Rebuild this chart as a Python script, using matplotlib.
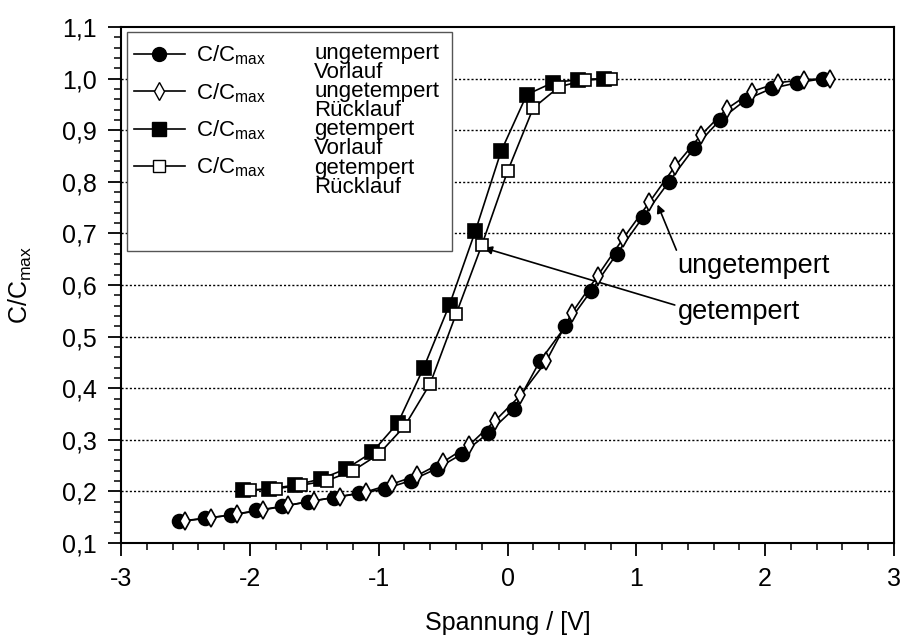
import matplotlib
matplotlib.use("Agg")
from matplotlib import pyplot as plt
from matplotlib.lines import Line2D
from matplotlib.patches import Rectangle
from matplotlib.ticker import MultipleLocator, FuncFormatter

# ungetempert Vorlauf (filled circles)
u_vor_x = [-2.55, -2.35, -2.15, -1.95, -1.75, -1.55, -1.35, -1.15, -0.95, -0.75,
           -0.55, -0.35, -0.15, 0.05, 0.25, 0.45, 0.65, 0.85, 1.05, 1.25,
           1.45, 1.65, 1.85, 2.05, 2.25, 2.45]
u_vor_y = [0.142, 0.148, 0.154, 0.163, 0.171, 0.180, 0.188, 0.196, 0.205, 0.221,
           0.244, 0.273, 0.313, 0.360, 0.452, 0.520, 0.589, 0.661, 0.731, 0.799,
           0.866, 0.920, 0.959, 0.981, 0.992, 1.000]

# ungetempert Ruecklauf (open diamonds)
u_rueck_x = [-2.5, -2.3, -2.1, -1.9, -1.7, -1.5, -1.3, -1.1, -0.9, -0.7,
             -0.5, -0.3, -0.1, 0.1, 0.3, 0.5, 0.7, 0.9, 1.1, 1.3,
             1.5, 1.7, 1.9, 2.1, 2.3, 2.5]
u_rueck_y = [0.143, 0.149, 0.156, 0.164, 0.173, 0.182, 0.190, 0.199, 0.214, 0.231,
             0.257, 0.289, 0.336, 0.386, 0.452, 0.546, 0.618, 0.691, 0.760, 0.830,
             0.890, 0.941, 0.975, 0.992, 0.998, 1.000]

# getempert Vorlauf (filled squares)
g_vor_x = [-2.05, -1.85, -1.65, -1.45, -1.25, -1.05, -0.85, -0.65, -0.45, -0.25,
           -0.05, 0.15, 0.35, 0.55, 0.75]
g_vor_y = [0.202, 0.205, 0.212, 0.224, 0.244, 0.276, 0.333, 0.440, 0.562, 0.704,
           0.859, 0.969, 0.992, 0.998, 1.000]

# getempert Ruecklauf (open squares)
g_rueck_x = [-2.0, -1.8, -1.6, -1.4, -1.2, -1.0, -0.8, -0.6, -0.4, -0.2,
             0.0, 0.2, 0.4, 0.6, 0.8]
g_rueck_y = [0.202, 0.205, 0.212, 0.221, 0.240, 0.272, 0.326, 0.409, 0.543, 0.677,
             0.820, 0.943, 0.984, 0.997, 1.000]

legend_first = "C/C$_{max}$"
legend_second = ["ungetempert", "Vorlauf", "ungetempert", "Rücklauf",
                 "getempert", "Vorlauf", "getempert", "Rücklauf"]

plt.rcParams['font.family'] = ['Liberation Sans', 'DejaVu Sans']
plt.rcParams['mathtext.fontset'] = 'custom'
plt.rcParams['mathtext.rm'] = 'Liberation Sans'
plt.rcParams['mathtext.it'] = 'Liberation Sans'
plt.rcParams['mathtext.default'] = 'regular'

fig = plt.figure(figsize=(9.01, 6.40), dpi=100)
ax = fig.add_axes([121 / 901, 97 / 640, 773 / 901, 516 / 640])

lw = 1.2
mew = 1.2
ax.plot(u_vor_x, u_vor_y, color='black', lw=lw, marker='o', ms=10,
        mfc='black', mec='black', mew=mew, zorder=3)
ax.plot(u_rueck_x, u_rueck_y, color='black', lw=lw, marker='d', ms=9,
        mfc='white', mec='black', mew=mew, zorder=4)
ax.plot(g_vor_x, g_vor_y, color='black', lw=lw, marker='s', ms=9.5,
        mfc='black', mec='black', mew=mew, zorder=3)
ax.plot(g_rueck_x, g_rueck_y, color='black', lw=lw, marker='s', ms=9,
        mfc='white', mec='black', mew=mew, zorder=4)

ax.set_xlim(-3, 3)
ax.set_ylim(0.1, 1.1)
ax.xaxis.set_major_locator(MultipleLocator(1))
ax.xaxis.set_minor_locator(MultipleLocator(0.2))
ax.yaxis.set_major_locator(MultipleLocator(0.1))
ax.yaxis.set_minor_locator(MultipleLocator(0.02))
ax.xaxis.set_major_formatter(FuncFormatter(lambda v, p: f"{v:.0f}".replace("\u2212", "-")))
ax.yaxis.set_major_formatter(FuncFormatter(lambda v, p: f"{v:.1f}".replace(".", ",")))
ax.tick_params(axis='both', which='major', direction='out', length=9.5, width=1.3,
               labelsize=18, pad=8)
ax.tick_params(axis='both', which='minor', direction='out', length=5, width=1.1)
for s in ax.spines.values():
    s.set_linewidth(1.5)

for gy in [0.2, 0.3, 0.4, 0.5, 0.6, 0.7, 0.8, 0.9, 1.0]:
    ax.axhline(gy, color='black', lw=1.0, ls=(0, (1.5, 1.5)), zorder=1)

ax.set_xlabel("Spannung / [V]", fontsize=18, labelpad=14)
ax.set_ylabel("C/C$_{max}$", fontsize=18, labelpad=20)

# legend box
ax.add_patch(Rectangle((0.0078, 0.566), 0.42, 0.424, transform=ax.transAxes,
                       facecolor='white', edgecolor='#555555', lw=1.0, zorder=5))
handles = [
    Line2D([], [], color='black', lw=lw, marker='o', ms=10, mfc='black', mec='black'),
    Line2D([], [], color='black', lw=lw, marker='d', ms=9, mfc='white', mec='black'),
    Line2D([], [], color='black', lw=lw, marker='s', ms=9.5, mfc='black', mec='black'),
    Line2D([], [], color='black', lw=lw, marker='s', ms=9, mfc='white', mec='black'),
]
leg = ax.legend(handles, [legend_first] * 4, loc='upper left',
                bbox_to_anchor=(-0.0035, 0.998), frameon=False, fontsize=16,
                handlelength=2.3, handletextpad=0.5, labelspacing=0.62,
                borderpad=0.2)
leg.set_zorder(6)
# second legend column: one text line every 19.2 px starting at the first marker row
for i, txt in enumerate(legend_second):
    ly = (543 - (53 + 19.2 * i)) / 516
    ax.text(0.2497, ly, txt, transform=ax.transAxes, fontsize=16,
            ha='left', va='center', zorder=7)

ax.annotate("ungetempert", xy=(1.165, 0.756), xytext=(1.32, 0.637),
            fontsize=19.5, ha='left', va='center',
            arrowprops=dict(arrowstyle='-|>', color='black', lw=1.2,
                            shrinkA=0, shrinkB=0, relpos=(0.0, 1.0),
                            mutation_scale=12))
ax.annotate("getempert", xy=(-0.184, 0.672), xytext=(1.32, 0.547),
            fontsize=19.5, ha='left', va='center',
            arrowprops=dict(arrowstyle='-|>', color='black', lw=1.2,
                            shrinkA=0, shrinkB=0, relpos=(0.0, 0.75),
                            mutation_scale=12))

fig.savefig("out.png", dpi=100)
